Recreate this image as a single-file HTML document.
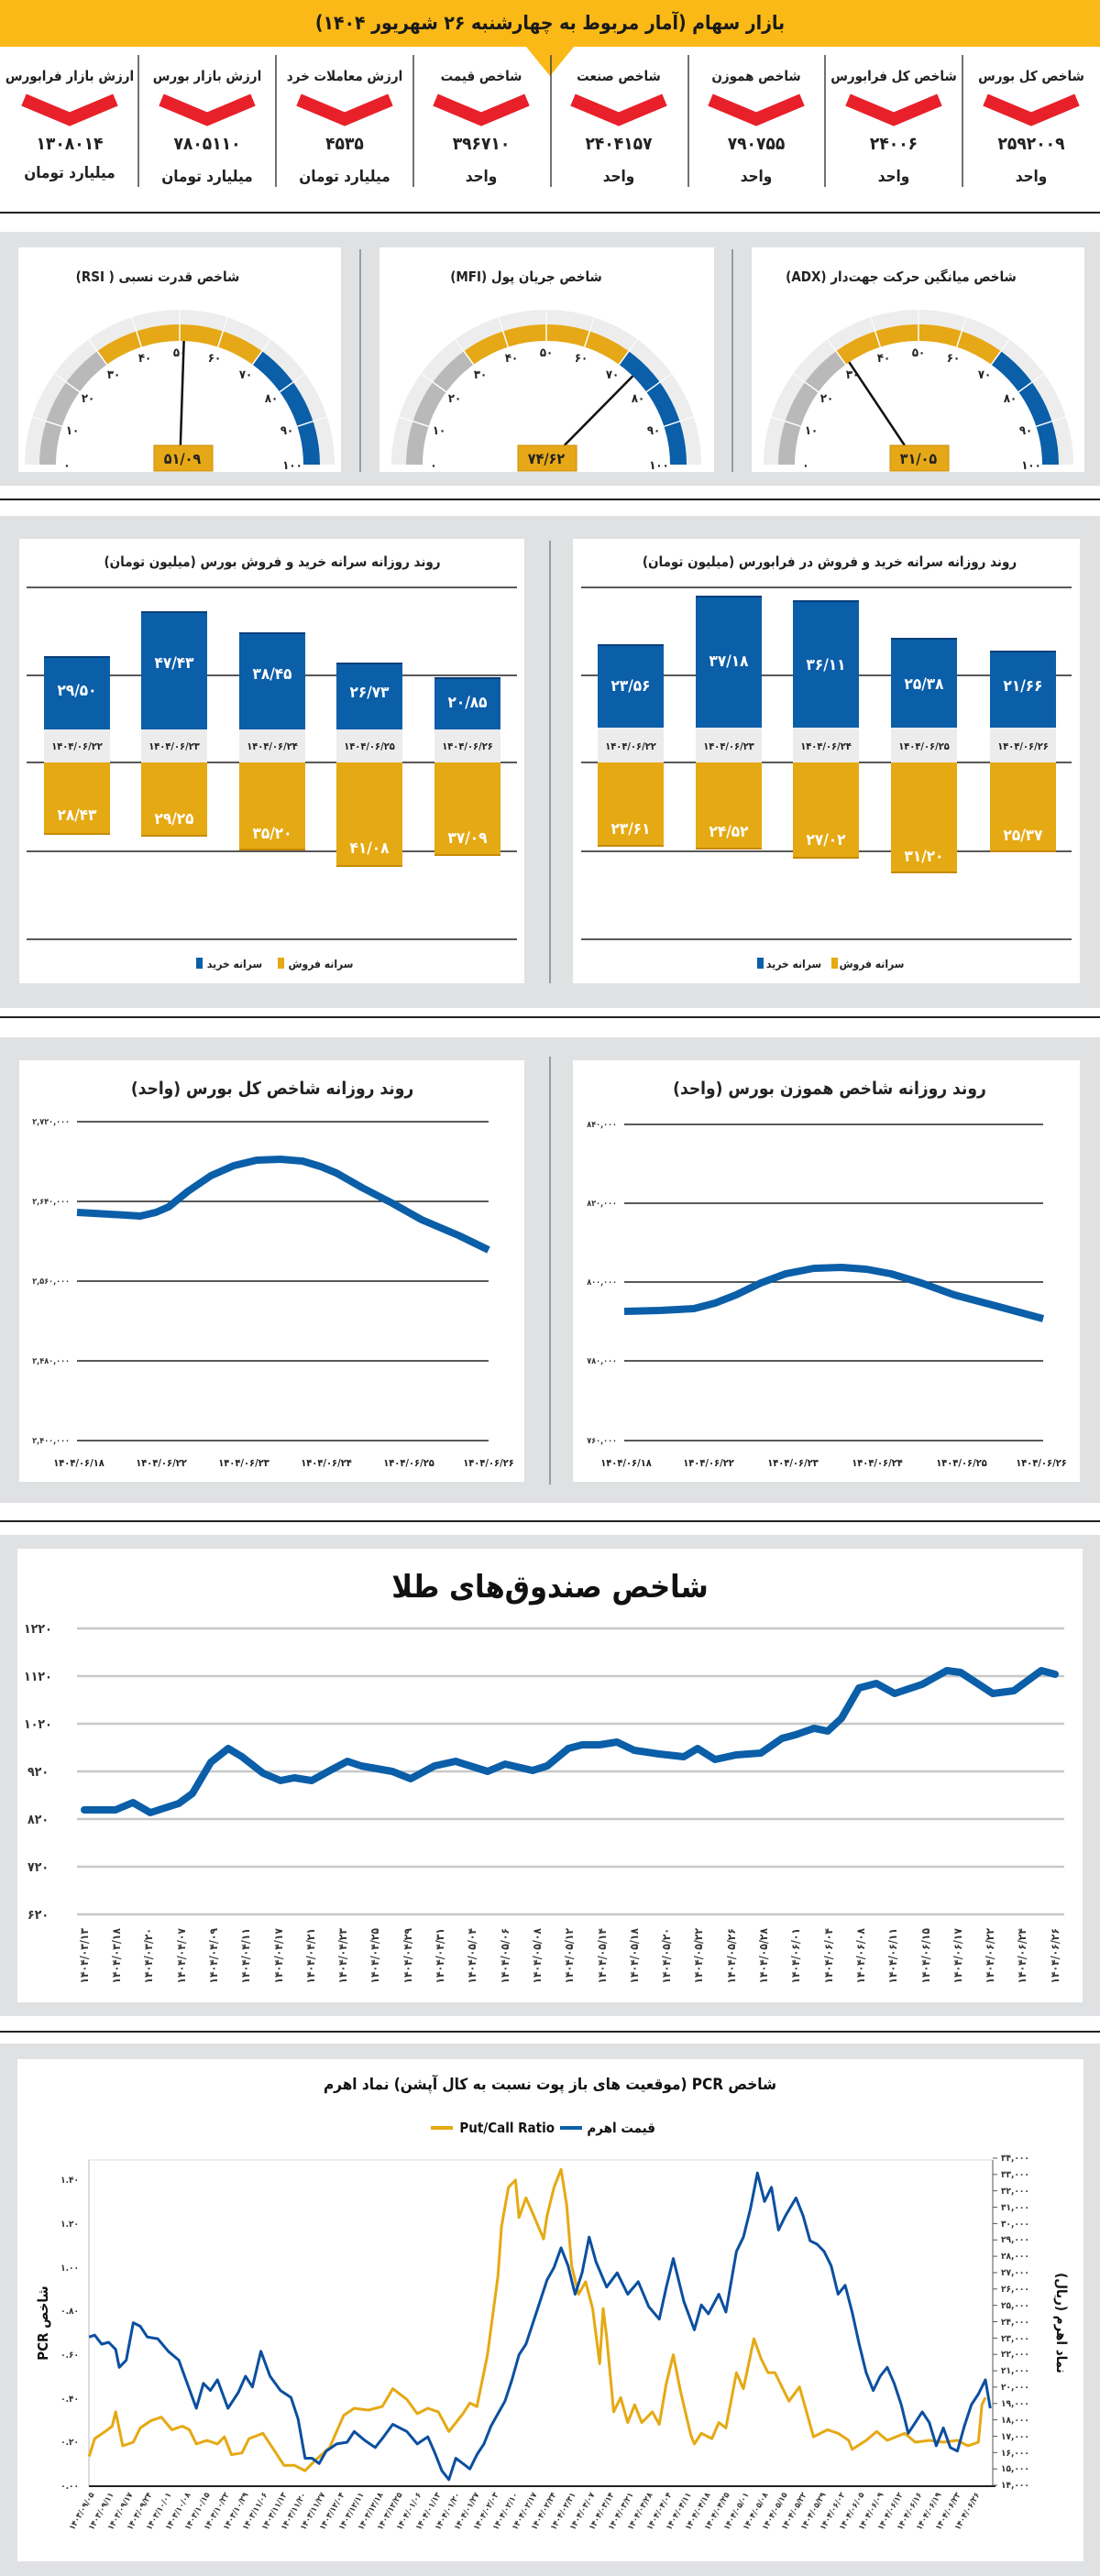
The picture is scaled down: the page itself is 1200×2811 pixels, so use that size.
<!DOCTYPE html>
<html><head><meta charset="utf-8">
<style>
html,body{margin:0;padding:0;background:#fff}
svg{display:block}
.f{font-family:"DejaVu Sans Condensed","DejaVu Sans","Liberation Sans",sans-serif;font-weight:bold}
</style></head>
<body>
<svg id="s" width="1200" height="2811" viewBox="0 0 1200 2811" xmlns="http://www.w3.org/2000/svg" class="f">
<rect width="1200" height="2811" fill="#fff"/>
<!-- header -->
<rect x="0" y="0" width="1200" height="51" fill="#fbb917"/>
<polygon points="574,51 626,51 600,83" fill="#fbb917"/>
<text x="600" y="32" font-size="21" text-anchor="middle" fill="#1a1a1a" direction="rtl">بازار سهام (آمار مربوط به چهارشنبه ۲۶ شهریور ۱۴۰۴)</text>
<g stroke="#444" stroke-width="1.5">
<line x1="151" y1="60" x2="151" y2="204"/><line x1="301" y1="60" x2="301" y2="204"/><line x1="451" y1="60" x2="451" y2="204"/><line x1="601" y1="60" x2="601" y2="204"/><line x1="751" y1="60" x2="751" y2="204"/><line x1="900" y1="60" x2="900" y2="204"/><line x1="1050" y1="60" x2="1050" y2="204"/>
</g>
<g font-size="15" text-anchor="middle" fill="#222">
<text x="1125" y="88">شاخص کل بورس</text>
<text x="975" y="88">شاخص کل فرابورس</text>
<text x="825" y="88">شاخص هموزن</text>
<text x="675" y="88">شاخص صنعت</text>
<text x="525" y="88">شاخص قیمت</text>
<text x="376" y="88">ارزش معاملات خرد</text>
<text x="226" y="88">ارزش بازار بورس</text>
<text x="76" y="88">ارزش بازار فرابورس</text>
</g>
<g fill="none" stroke="#e8202a" stroke-width="14" stroke-linejoin="miter">
<polyline points="1075,109 1125,130 1175,109"/>
<polyline points="925,109 975,130 1025,109"/>
<polyline points="775,109 825,130 875,109"/>
<polyline points="625,109 675,130 725,109"/>
<polyline points="475,109 525,130 575,109"/>
<polyline points="326,109 376,130 426,109"/>
<polyline points="176,109 226,130 276,109"/>
<polyline points="26,109 76,130 126,109"/>
</g>
<g font-size="19" text-anchor="middle" fill="#222">
<text x="1125" y="163">۲۵۹۲۰۰۹</text>
<text x="975" y="163">۲۴۰۰۶</text>
<text x="825" y="163">۷۹۰۷۵۵</text>
<text x="675" y="163">۲۴۰۴۱۵۷</text>
<text x="525" y="163">۳۹۶۷۱۰</text>
<text x="376" y="163">۴۵۳۵</text>
<text x="226" y="163">۷۸۰۵۱۱۰</text>
<text x="76" y="163">۱۳۰۸۰۱۴</text>
</g>
<g font-size="17" text-anchor="middle" fill="#222">
<text x="1125" y="198">واحد</text>
<text x="975" y="198">واحد</text>
<text x="825" y="198">واحد</text>
<text x="675" y="198">واحد</text>
<text x="525" y="198">واحد</text>
<text x="376" y="198">میلیارد تومان</text>
<text x="226" y="198">میلیارد تومان</text>
<text x="76" y="194">میلیارد تومان</text>
</g>
<rect x="0" y="231" width="1200" height="2" fill="#222"/>

<!-- gauges section -->
<rect x="0" y="253" width="1200" height="277" fill="#e0e1e3"/>
<rect x="20" y="270" width="352" height="245" fill="#fff"/>
<rect x="414" y="270" width="365" height="245" fill="#fff"/>
<rect x="820" y="270" width="363" height="245" fill="#fff"/>
<line x1="393" y1="272" x2="393" y2="515" stroke="#555" stroke-width="1"/>
<line x1="799" y1="272" x2="799" y2="515" stroke="#555" stroke-width="1"/>
<g font-size="15" text-anchor="middle" fill="#222">
<text x="172" y="307" direction="rtl">شاخص قدرت نسبی ( RSI)</text>
<text x="574" y="307" direction="rtl">شاخص جریان پول (MFI)</text>
<text x="983" y="307" direction="rtl">شاخص میانگین حرکت جهت‌دار (ADX)</text>
</g>
<g id="g1" transform="translate(196,507)"></g>
<g id="g2" transform="translate(596,507)"></g>
<g id="g3" transform="translate(1002,507)"></g>
<rect x="0" y="544" width="1200" height="2" fill="#222"/>

<!-- bars section -->
<rect x="0" y="563" width="1200" height="537" fill="#e0e1e3"/>
<rect x="21" y="588" width="551" height="485" fill="#fff"/>
<rect x="625" y="588" width="553" height="485" fill="#fff"/>
<line x1="600" y1="590" x2="600" y2="1073" stroke="#555" stroke-width="1"/>
<g font-size="15" text-anchor="middle" fill="#222">
<text x="297" y="618" direction="rtl">روند روزانه سرانه خرید و فروش بورس (میلیون تومان)</text>
<text x="905" y="618" direction="rtl">روند روزانه سرانه خرید و فروش در فرابورس (میلیون تومان)</text>
</g>
<g stroke="#222" stroke-width="1.5">
<line x1="29" y1="641" x2="564" y2="641"/><line x1="29" y1="737" x2="564" y2="737"/><line x1="29" y1="832" x2="564" y2="832"/><line x1="29" y1="929" x2="564" y2="929"/><line x1="29" y1="1025" x2="564" y2="1025"/>
<line x1="634" y1="641" x2="1169" y2="641"/><line x1="634" y1="737" x2="1169" y2="737"/><line x1="634" y1="832" x2="1169" y2="832"/><line x1="634" y1="929" x2="1169" y2="929"/><line x1="634" y1="1025" x2="1169" y2="1025"/>
</g>
<g id="bars"></g>
<g font-size="17" text-anchor="middle" fill="#fff">
<text x="84" y="759">۲۹/۵۰</text><text x="190" y="729">۴۷/۴۳</text><text x="297" y="741">۳۸/۴۵</text><text x="403" y="761">۲۶/۷۳</text><text x="510" y="772">۲۰/۸۵</text>
<text x="84" y="895">۲۸/۴۳</text><text x="190" y="899">۲۹/۲۵</text><text x="297" y="915">۳۵/۲۰</text><text x="403" y="931">۴۱/۰۸</text><text x="510" y="920">۳۷/۰۹</text>
<text x="688" y="754">۲۳/۵۶</text><text x="795" y="727">۳۷/۱۸</text><text x="901" y="731">۳۶/۱۱</text><text x="1008" y="752">۲۵/۳۸</text><text x="1116" y="754">۲۱/۶۶</text>
<text x="688" y="910">۲۳/۶۱</text><text x="795" y="913">۲۴/۵۲</text><text x="901" y="922">۲۷/۰۲</text><text x="1008" y="940">۳۱/۲۰</text><text x="1116" y="917">۲۵/۳۷</text>
</g>
<g font-size="11" text-anchor="middle" fill="#222">
<text x="84" y="818">۱۴۰۴/۰۶/۲۲</text><text x="190" y="818">۱۴۰۴/۰۶/۲۳</text><text x="297" y="818">۱۴۰۴/۰۶/۲۴</text><text x="403" y="818">۱۴۰۴/۰۶/۲۵</text><text x="510" y="818">۱۴۰۴/۰۶/۲۶</text>
<text x="688" y="818">۱۴۰۴/۰۶/۲۲</text><text x="795" y="818">۱۴۰۴/۰۶/۲۳</text><text x="901" y="818">۱۴۰۴/۰۶/۲۴</text><text x="1008" y="818">۱۴۰۴/۰۶/۲۵</text><text x="1116" y="818">۱۴۰۴/۰۶/۲۶</text>
</g>
<rect x="214" y="1045" width="7" height="12" fill="#0b5ea8"/>
<rect x="303" y="1045" width="7" height="12" fill="#e5a913"/>
<rect x="826" y="1045" width="7" height="12" fill="#0b5ea8"/>
<rect x="907" y="1045" width="7" height="12" fill="#e5a913"/>
<g font-size="12" text-anchor="middle" fill="#222">
<text x="256" y="1056">سرانه خرید</text><text x="350" y="1056">سرانه فروش</text>
<text x="866" y="1056">سرانه خرید</text><text x="951" y="1056">سرانه فروش</text>
</g>
<rect x="0" y="1109" width="1200" height="2" fill="#222"/>

<!-- line charts -->
<rect x="0" y="1132" width="1200" height="508" fill="#e0e1e3"/>
<rect x="21" y="1157" width="551" height="460" fill="#fff"/>
<rect x="625" y="1157" width="553" height="460" fill="#fff"/>
<line x1="600" y1="1153" x2="600" y2="1620" stroke="#555" stroke-width="1"/>
<g font-size="19" text-anchor="middle" fill="#222">
<text x="297" y="1194" direction="rtl">روند روزانه شاخص کل بورس (واحد)</text>
<text x="905" y="1194" direction="rtl">روند روزانه شاخص هموزن بورس (واحد)</text>
</g>
<g stroke="#222" stroke-width="1.5">
<line x1="84" y1="1224" x2="533" y2="1224"/><line x1="84" y1="1311" x2="533" y2="1311"/><line x1="84" y1="1398" x2="533" y2="1398"/><line x1="84" y1="1485" x2="533" y2="1485"/><line x1="84" y1="1572" x2="533" y2="1572"/>
<line x1="681" y1="1227" x2="1138" y2="1227"/><line x1="681" y1="1313" x2="1138" y2="1313"/><line x1="681" y1="1399" x2="1138" y2="1399"/><line x1="681" y1="1485" x2="1138" y2="1485"/><line x1="681" y1="1572" x2="1138" y2="1572"/>
</g>
<g font-size="9" text-anchor="end" fill="#333">
<text x="76" y="1227">۲,۷۲۰,۰۰۰</text><text x="76" y="1314">۲,۶۴۰,۰۰۰</text><text x="76" y="1401">۲,۵۶۰,۰۰۰</text><text x="76" y="1488">۲,۴۸۰,۰۰۰</text><text x="76" y="1575">۲,۴۰۰,۰۰۰</text>
<text x="673" y="1230">۸۴۰,۰۰۰</text><text x="673" y="1316">۸۲۰,۰۰۰</text><text x="673" y="1402">۸۰۰,۰۰۰</text><text x="673" y="1488">۷۸۰,۰۰۰</text><text x="673" y="1575">۷۶۰,۰۰۰</text>
</g>
<polyline fill="none" stroke="#0b5ea8" stroke-width="8" stroke-linejoin="round" points="84,1323 120,1325 153,1327 170,1323 184,1317 205,1300 230,1283 255,1272 280,1266 306,1265 330,1267 350,1273 367,1280 395,1296 428,1313 460,1331 500,1348 533,1364"/>
<polyline fill="none" stroke="#0b5ea8" stroke-width="8" stroke-linejoin="round" points="681,1431 720,1430 757,1428 780,1422 803,1413 830,1400 857,1390 888,1384 918,1383 945,1385 972,1390 1005,1400 1041,1413 1090,1426 1138,1439"/>
<g font-size="11" text-anchor="middle" fill="#222">
<text x="86" y="1600">۱۴۰۴/۰۶/۱۸</text><text x="176" y="1600">۱۴۰۴/۰۶/۲۲</text><text x="266" y="1600">۱۴۰۴/۰۶/۲۳</text><text x="356" y="1600">۱۴۰۴/۰۶/۲۴</text><text x="446" y="1600">۱۴۰۴/۰۶/۲۵</text><text x="533" y="1600">۱۴۰۴/۰۶/۲۶</text>
<text x="683" y="1600">۱۴۰۴/۰۶/۱۸</text><text x="773" y="1600">۱۴۰۴/۰۶/۲۲</text><text x="865" y="1600">۱۴۰۴/۰۶/۲۳</text><text x="957" y="1600">۱۴۰۴/۰۶/۲۴</text><text x="1049" y="1600">۱۴۰۴/۰۶/۲۵</text><text x="1136" y="1600">۱۴۰۴/۰۶/۲۶</text>
</g>
<rect x="0" y="1659" width="1200" height="2" fill="#222"/>

<!-- gold -->
<rect x="0" y="1675" width="1200" height="525" fill="#e0e1e3"/>
<rect x="19" y="1690" width="1162" height="495" fill="#fff"/>
<text x="600" y="1743" font-size="34" text-anchor="middle" fill="#111">شاخص صندوق‌های طلا</text>
<g stroke="#c8c8c8" stroke-width="2.5">
<line x1="84" y1="1777" x2="1161" y2="1777"/><line x1="84" y1="1829" x2="1161" y2="1829"/><line x1="84" y1="1881" x2="1161" y2="1881"/><line x1="84" y1="1933" x2="1161" y2="1933"/><line x1="84" y1="1985" x2="1161" y2="1985"/><line x1="84" y1="2037" x2="1161" y2="2037"/><line x1="84" y1="2089" x2="1161" y2="2089"/>
</g>
<g font-size="14" text-anchor="start" fill="#333">
<text x="26" y="1782">۱۲۲۰</text><text x="26" y="1834">۱۱۲۰</text><text x="26" y="1886">۱۰۲۰</text><text x="30" y="1938">۹۲۰</text><text x="30" y="1990">۸۲۰</text><text x="30" y="2042">۷۲۰</text><text x="30" y="2094">۶۲۰</text>
</g>
<polyline fill="none" stroke="#0b5ea8" stroke-width="8" stroke-linejoin="round" stroke-linecap="round" points="92,1975 126,1975 145,1967 164,1978 195,1968 210,1957 230,1923 249,1908 264,1917 287,1935 306,1943 321,1940 340,1943 360,1932 379,1922 394,1927 428,1933 448,1941 474,1927 497,1922 532,1933 551,1925 581,1932 597,1927 620,1908 635,1904 654,1904 673,1901 692,1910 719,1914 746,1917 761,1908 780,1920 803,1915 830,1913 853,1897 868,1893 888,1886 903,1889 918,1875 937,1842 956,1837 976,1848 1006,1838 1033,1823 1048,1825 1083,1848 1106,1845 1136,1823 1151,1827"/>
<g font-size="12" text-anchor="end" fill="#333">
<text transform="translate(96,2104) rotate(-90)">۱۴۰۴/۰۳/۱۳</text>
<text transform="translate(131,2104) rotate(-90)">۱۴۰۴/۰۳/۱۸</text>
<text transform="translate(166,2104) rotate(-90)">۱۴۰۴/۰۳/۲۰</text>
<text transform="translate(202,2104) rotate(-90)">۱۴۰۴/۰۴/۰۷</text>
<text transform="translate(237,2104) rotate(-90)">۱۴۰۴/۰۴/۰۹</text>
<text transform="translate(272,2104) rotate(-90)">۱۴۰۴/۰۴/۱۱</text>
<text transform="translate(308,2104) rotate(-90)">۱۴۰۴/۰۴/۱۷</text>
<text transform="translate(343,2104) rotate(-90)">۱۴۰۴/۰۴/۲۱</text>
<text transform="translate(378,2104) rotate(-90)">۱۴۰۴/۰۴/۲۳</text>
<text transform="translate(413,2104) rotate(-90)">۱۴۰۴/۰۴/۲۵</text>
<text transform="translate(449,2104) rotate(-90)">۱۴۰۴/۰۴/۲۹</text>
<text transform="translate(484,2104) rotate(-90)">۱۴۰۴/۰۴/۳۱</text>
<text transform="translate(519,2104) rotate(-90)">۱۴۰۴/۰۵/۰۴</text>
<text transform="translate(555,2104) rotate(-90)">۱۴۰۴/۰۵/۰۶</text>
<text transform="translate(590,2104) rotate(-90)">۱۴۰۴/۰۵/۰۸</text>
<text transform="translate(625,2104) rotate(-90)">۱۴۰۴/۰۵/۱۲</text>
<text transform="translate(661,2104) rotate(-90)">۱۴۰۴/۰۵/۱۴</text>
<text transform="translate(696,2104) rotate(-90)">۱۴۰۴/۰۵/۱۸</text>
<text transform="translate(731,2104) rotate(-90)">۱۴۰۴/۰۵/۲۰</text>
<text transform="translate(766,2104) rotate(-90)">۱۴۰۴/۰۵/۲۲</text>
<text transform="translate(802,2104) rotate(-90)">۱۴۰۴/۰۵/۲۶</text>
<text transform="translate(837,2104) rotate(-90)">۱۴۰۴/۰۵/۲۸</text>
<text transform="translate(872,2104) rotate(-90)">۱۴۰۴/۰۶/۰۱</text>
<text transform="translate(908,2104) rotate(-90)">۱۴۰۴/۰۶/۰۴</text>
<text transform="translate(943,2104) rotate(-90)">۱۴۰۴/۰۶/۰۸</text>
<text transform="translate(978,2104) rotate(-90)">۱۴۰۴/۰۶/۱۱</text>
<text transform="translate(1014,2104) rotate(-90)">۱۴۰۴/۰۶/۱۵</text>
<text transform="translate(1049,2104) rotate(-90)">۱۴۰۴/۰۶/۱۷</text>
<text transform="translate(1084,2104) rotate(-90)">۱۴۰۴/۰۶/۲۲</text>
<text transform="translate(1119,2104) rotate(-90)">۱۴۰۴/۰۶/۲۴</text>
<text transform="translate(1155,2104) rotate(-90)">۱۴۰۴/۰۶/۲۶</text>
</g>
<rect x="0" y="2216" width="1200" height="2" fill="#222"/>

<!-- PCR -->
<rect x="0" y="2230" width="1200" height="581" fill="#e0e1e3"/>
<rect x="19" y="2247" width="1163" height="548" fill="#fff"/>
<text x="600" y="2280" font-size="17" text-anchor="middle" fill="#111" direction="rtl">شاخص PCR (موقعیت های باز پوت نسبت به کال آپشن) نماد اهرم</text>
<rect x="611" y="2320" width="24" height="4" fill="#0b5ea8"/>
<text x="715" y="2327" font-size="15" fill="#111" text-anchor="end">قیمت اهرم</text>
<rect x="470" y="2320" width="24" height="4" fill="#e5a913"/>
<text x="605" y="2327" font-size="15" fill="#111" text-anchor="end">Put/Call Ratio</text>
<line x1="97" y1="2357" x2="1083" y2="2357" stroke="#ddd" stroke-width="1"/>
<line x1="97" y1="2357" x2="97" y2="2713" stroke="#bbb" stroke-width="1"/>
<line x1="1083" y1="2357" x2="1083" y2="2713" stroke="#555" stroke-width="1"/>
<line x1="97" y1="2713" x2="1086" y2="2713" stroke="#222" stroke-width="2"/>
<g font-size="10" text-anchor="end" fill="#333">
<text x="86" y="2716">۰.۰۰</text><text x="86" y="2668">۰.۲۰</text><text x="86" y="2621">۰.۴۰</text><text x="86" y="2573">۰.۶۰</text><text x="86" y="2525">۰.۸۰</text><text x="86" y="2478">۱.۰۰</text><text x="86" y="2430">۱.۲۰</text><text x="86" y="2382">۱.۴۰</text>
</g>
<g font-size="10" text-anchor="start" fill="#333">
<text x="1092" y="2715">۱۴,۰۰۰</text><text x="1092" y="2697">۱۵,۰۰۰</text><text x="1092" y="2680">۱۶,۰۰۰</text><text x="1092" y="2662">۱۷,۰۰۰</text><text x="1092" y="2644">۱۸,۰۰۰</text><text x="1092" y="2626">۱۹,۰۰۰</text><text x="1092" y="2608">۲۰,۰۰۰</text><text x="1092" y="2590">۲۱,۰۰۰</text><text x="1092" y="2572">۲۲,۰۰۰</text><text x="1092" y="2555">۲۳,۰۰۰</text><text x="1092" y="2537">۲۴,۰۰۰</text><text x="1092" y="2519">۲۵,۰۰۰</text><text x="1092" y="2501">۲۶,۰۰۰</text><text x="1092" y="2483">۲۷,۰۰۰</text><text x="1092" y="2465">۲۸,۰۰۰</text><text x="1092" y="2447">۲۹,۰۰۰</text><text x="1092" y="2430">۳۰,۰۰۰</text><text x="1092" y="2412">۳۱,۰۰۰</text><text x="1092" y="2394">۳۲,۰۰۰</text><text x="1092" y="2376">۳۳,۰۰۰</text><text x="1092" y="2358">۳۴,۰۰۰</text>
</g>
<text transform="translate(52,2535) rotate(-90)" font-size="15" text-anchor="middle" fill="#111" direction="rtl">شاخص PCR</text>
<text transform="translate(1153,2535) rotate(90)" font-size="15" text-anchor="middle" fill="#111" direction="rtl">نماد اهرم (ریال)</text>
<g id="pcr"></g>
<g font-size="9" text-anchor="end" fill="#333">
<text transform="translate(103,2722) rotate(-60)">۱۴۰۳/۰۹/۰۵</text>
<text transform="translate(124,2722) rotate(-60)">۱۴۰۳/۰۹/۱۱</text>
<text transform="translate(145,2722) rotate(-60)">۱۴۰۳/۰۹/۱۷</text>
<text transform="translate(166,2722) rotate(-60)">۱۴۰۳/۰۹/۲۴</text>
<text transform="translate(187,2722) rotate(-60)">۱۴۰۳/۱۰/۰۱</text>
<text transform="translate(208,2722) rotate(-60)">۱۴۰۳/۱۰/۰۸</text>
<text transform="translate(229,2722) rotate(-60)">۱۴۰۳/۱۰/۱۵</text>
<text transform="translate(250,2722) rotate(-60)">۱۴۰۳/۱۰/۲۲</text>
<text transform="translate(271,2722) rotate(-60)">۱۴۰۳/۱۰/۲۹</text>
<text transform="translate(292,2722) rotate(-60)">۱۴۰۳/۱۱/۰۶</text>
<text transform="translate(313,2722) rotate(-60)">۱۴۰۳/۱۱/۱۳</text>
<text transform="translate(334,2722) rotate(-60)">۱۴۰۳/۱۱/۲۰</text>
<text transform="translate(355,2722) rotate(-60)">۱۴۰۳/۱۱/۲۷</text>
<text transform="translate(376,2722) rotate(-60)">۱۴۰۳/۱۲/۰۴</text>
<text transform="translate(397,2722) rotate(-60)">۱۴۰۳/۱۲/۱۱</text>
<text transform="translate(418,2722) rotate(-60)">۱۴۰۳/۱۲/۱۸</text>
<text transform="translate(439,2722) rotate(-60)">۱۴۰۳/۱۲/۲۵</text>
<text transform="translate(460,2722) rotate(-60)">۱۴۰۴/۰۱/۰۶</text>
<text transform="translate(481,2722) rotate(-60)">۱۴۰۴/۰۱/۱۳</text>
<text transform="translate(502,2722) rotate(-60)">۱۴۰۴/۰۱/۲۰</text>
<text transform="translate(523,2722) rotate(-60)">۱۴۰۴/۰۱/۲۷</text>
<text transform="translate(544,2722) rotate(-60)">۱۴۰۴/۰۲/۰۳</text>
<text transform="translate(565,2722) rotate(-60)">۱۴۰۴/۰۲/۱۰</text>
<text transform="translate(586,2722) rotate(-60)">۱۴۰۴/۰۲/۱۷</text>
<text transform="translate(607,2722) rotate(-60)">۱۴۰۴/۰۲/۲۴</text>
<text transform="translate(628,2722) rotate(-60)">۱۴۰۴/۰۲/۳۱</text>
<text transform="translate(649,2722) rotate(-60)">۱۴۰۴/۰۳/۰۷</text>
<text transform="translate(670,2722) rotate(-60)">۱۴۰۴/۰۳/۱۴</text>
<text transform="translate(691,2722) rotate(-60)">۱۴۰۴/۰۳/۲۱</text>
<text transform="translate(712,2722) rotate(-60)">۱۴۰۴/۰۳/۲۸</text>
<text transform="translate(733,2722) rotate(-60)">۱۴۰۴/۰۴/۰۴</text>
<text transform="translate(754,2722) rotate(-60)">۱۴۰۴/۰۴/۱۱</text>
<text transform="translate(775,2722) rotate(-60)">۱۴۰۴/۰۴/۱۸</text>
<text transform="translate(796,2722) rotate(-60)">۱۴۰۴/۰۴/۲۵</text>
<text transform="translate(817,2722) rotate(-60)">۱۴۰۴/۰۵/۰۱</text>
<text transform="translate(838,2722) rotate(-60)">۱۴۰۴/۰۵/۰۸</text>
<text transform="translate(859,2722) rotate(-60)">۱۴۰۴/۰۵/۱۵</text>
<text transform="translate(880,2722) rotate(-60)">۱۴۰۴/۰۵/۲۲</text>
<text transform="translate(901,2722) rotate(-60)">۱۴۰۴/۰۵/۲۹</text>
<text transform="translate(922,2722) rotate(-60)">۱۴۰۴/۰۶/۰۲</text>
<text transform="translate(943,2722) rotate(-60)">۱۴۰۴/۰۶/۰۵</text>
<text transform="translate(964,2722) rotate(-60)">۱۴۰۴/۰۶/۰۹</text>
<text transform="translate(985,2722) rotate(-60)">۱۴۰۴/۰۶/۱۲</text>
<text transform="translate(1006,2722) rotate(-60)">۱۴۰۴/۰۶/۱۶</text>
<text transform="translate(1027,2722) rotate(-60)">۱۴۰۴/۰۶/۱۹</text>
<text transform="translate(1048,2722) rotate(-60)">۱۴۰۴/۰۶/۲۳</text>
<text transform="translate(1069,2722) rotate(-60)">۱۴۰۴/۰۶/۲۶</text>
</g>

<!-- gauge labels -->
<g font-size="13" text-anchor="middle" fill="#222" transform="translate(196,507)">
<text x="-123" y="5">۰</text><text x="-117" y="-33">۱۰</text><text x="-100" y="-68">۲۰</text><text x="-72" y="-94">۳۰</text><text x="-38" y="-112">۴۰</text><text x="0" y="-118">۵۰</text><text x="38" y="-112">۶۰</text><text x="72" y="-94">۷۰</text><text x="100" y="-68">۸۰</text><text x="117" y="-33">۹۰</text><text x="123" y="5">۱۰۰</text>
</g>
<g font-size="13" text-anchor="middle" fill="#222" transform="translate(596,507)">
<text x="-123" y="5">۰</text><text x="-117" y="-33">۱۰</text><text x="-100" y="-68">۲۰</text><text x="-72" y="-94">۳۰</text><text x="-38" y="-112">۴۰</text><text x="0" y="-118">۵۰</text><text x="38" y="-112">۶۰</text><text x="72" y="-94">۷۰</text><text x="100" y="-68">۸۰</text><text x="117" y="-33">۹۰</text><text x="123" y="5">۱۰۰</text>
</g>
<g font-size="13" text-anchor="middle" fill="#222" transform="translate(1002,507)">
<text x="-123" y="5">۰</text><text x="-117" y="-33">۱۰</text><text x="-100" y="-68">۲۰</text><text x="-72" y="-94">۳۰</text><text x="-38" y="-112">۴۰</text><text x="0" y="-118">۵۰</text><text x="38" y="-112">۶۰</text><text x="72" y="-94">۷۰</text><text x="100" y="-68">۸۰</text><text x="117" y="-33">۹۰</text><text x="123" y="5">۱۰۰</text>
</g>
<g id="boxes"></g>
<g font-size="16" text-anchor="middle" fill="#222">
<text x="199" y="506">۵۱/۰۹</text>
<text x="596" y="506">۷۴/۶۲</text>
<text x="1002" y="506">۳۱/۰۵</text>
</g>
</svg>
<script>
(function(){
var NS="http://www.w3.org/2000/svg";
function el(p,t,a){var e=document.createElementNS(NS,t);for(var k in a)e.setAttribute(k,a[k]);p.appendChild(e);return e;}
function P(r,v){var t=Math.PI*(1-v/100);return [r*Math.cos(t),-r*Math.sin(t)];}
function band(g,r1,r2,v1,v2,f){var a=P(r2,v1),b=P(r2,v2),c=P(r1,v2),d=P(r1,v1);
el(g,'path',{d:'M'+a+' A'+r2+' '+r2+' 0 0 1 '+b+' L'+c+' A'+r1+' '+r1+' 0 0 0 '+d+' Z',fill:f});}
function gauge(id,val,cx){var g=document.getElementById(id);
band(g,153,169,0,100,'#ededed');
band(g,135,153,0,30,'#b9b9b9');band(g,135,153,30,70,'#e6a817');band(g,135,153,70,100,'#0b5ea8');
for(var v=10;v<100;v+=10){var a=P(135,v),b=P(153,v);el(g,'line',{x1:a[0],y1:a[1],x2:b[0],y2:b[1],stroke:'#fff','stroke-width':1.5});}
for(var v=10;v<100;v+=10){var a=P(153,v),b=P(169,v);el(g,'line',{x1:a[0],y1:a[1],x2:b[0],y2:b[1],stroke:'#fff','stroke-width':1});}
var e=P(135,val);el(g,'line',{x1:0.8*(val-50),y1:-21,x2:e[0],y2:e[1],stroke:'#111','stroke-width':2.5});
var bx=document.getElementById('boxes');
var off=(id=='g1')?3:0;
el(bx,'rect',{x:cx+off-31,y:486,width:64,height:28,fill:'#e6a817',stroke:'#c98d0a','stroke-width':1});}
gauge('g1',51.09,196);gauge('g2',74.62,596);gauge('g3',31.05,1002);
var bars=document.getElementById('bars');
var L=[[48,716,911,796],[154,667,913,796],[261,690,928,796],[367,723,946,796],[474,739,934,796],
[652,703,924,794],[759,650,927,794],[865,655,937,794],[972,696,953,794],[1080,710,930,794]];
L.forEach(function(b){
el(bars,'rect',{x:b[0],y:b[1],width:72,height:b[3]-b[1],fill:'#0b5ea8'});
el(bars,'rect',{x:b[0],y:b[1],width:72,height:2,fill:'#073f7a'});
el(bars,'rect',{x:b[0],y:b[3],width:72,height:832-b[3],fill:'#ececec'});
el(bars,'rect',{x:b[0],y:832,width:72,height:b[2]-832,fill:'#e5a913'});
el(bars,'rect',{x:b[0],y:b[2]-2,width:72,height:2,fill:'#c68a06'});
});
var pcr=document.getElementById('pcr');
function conv(a){var s=[];for(var i=0;i<a.length;i+=2){s.push((a[i]/1.307).toFixed(1)+','+(2200+a[i+1]/2.57).toFixed(1));}return s.join(' ');}
var O=[127,1235,135,1185,150,1165,160,1150,165,1110,175,1205,190,1195,200,1155,215,1135,230,1125,245,1160,260,1150,270,1160,280,1200,295,1190,310,1200,320,1180,330,1230,345,1225,355,1185,375,1170,390,1215,405,1260,420,1260,435,1275,450,1245,470,1210,490,1120,505,1100,525,1105,545,1095,560,1045,580,1075,595,1115,610,1100,625,1110,640,1165,660,1115,670,1085,680,1095,695,950,710,730,715,590,725,480,735,460,740,565,750,510,760,555,775,625,780,560,790,480,800,430,808,530,815,700,825,780,835,745,845,820,855,975,860,820,865,900,875,1110,885,1070,895,1140,905,1090,915,1140,930,1110,940,1145,950,1030,960,950,970,1050,985,1175,990,1200,1000,1170,1015,1185,1025,1140,1035,1155,1050,1000,1060,1045,1075,905,1085,960,1095,1000,1105,1000,1125,1080,1140,1040,1160,1180,1180,1160,1195,1170,1210,1190,1215,1215,1235,1190,1250,1165,1265,1190,1290,1170,1305,1195,1325,1190,1345,1195,1365,1190,1380,1205,1395,1195,1400,1090,1405,1070];
var B=[127,900,135,895,145,920,155,915,165,935,170,985,180,965,190,860,200,870,210,900,225,905,240,940,255,965,265,1020,280,1100,290,1030,300,1050,310,1020,325,1100,340,1055,350,1010,360,1040,372,940,385,1010,400,1050,415,1070,425,1130,435,1240,445,1240,455,1255,465,1220,480,1200,495,1195,505,1165,520,1190,535,1210,545,1185,560,1145,580,1165,595,1200,610,1180,620,1225,630,1275,640,1300,650,1240,660,1255,670,1270,680,1230,690,1200,700,1150,710,1115,720,1080,730,1020,740,950,750,920,765,830,780,740,790,705,800,650,810,700,820,780,830,720,840,620,850,690,865,760,880,720,895,780,910,745,925,815,940,850,950,760,960,680,975,800,990,880,1000,810,1010,835,1025,780,1035,830,1050,660,1060,620,1070,540,1080,440,1090,520,1100,480,1110,600,1120,560,1135,510,1145,560,1155,630,1165,640,1175,660,1185,700,1195,780,1205,755,1215,830,1225,920,1235,1000,1245,1050,1255,1010,1265,985,1275,1030,1285,1090,1295,1170,1305,1140,1315,1110,1325,1140,1335,1205,1345,1155,1355,1210,1365,1220,1375,1150,1385,1090,1395,1060,1405,1020,1412,1100];
el(pcr,'polyline',{points:conv(O),fill:'none',stroke:'#e5a913','stroke-width':3,'stroke-linejoin':'round'});
el(pcr,'polyline',{points:conv(B),fill:'none',stroke:'#0b4fa0','stroke-width':3,'stroke-linejoin':'round'});
var rt=document.getElementById('s');
for(var k=0;k<=20;k++){var y=2712-17.85*k;el(rt,'line',{x1:1083,y1:y,x2:1088,y2:y,stroke:'#555','stroke-width':1});}
})();
</script>
</body></html>
